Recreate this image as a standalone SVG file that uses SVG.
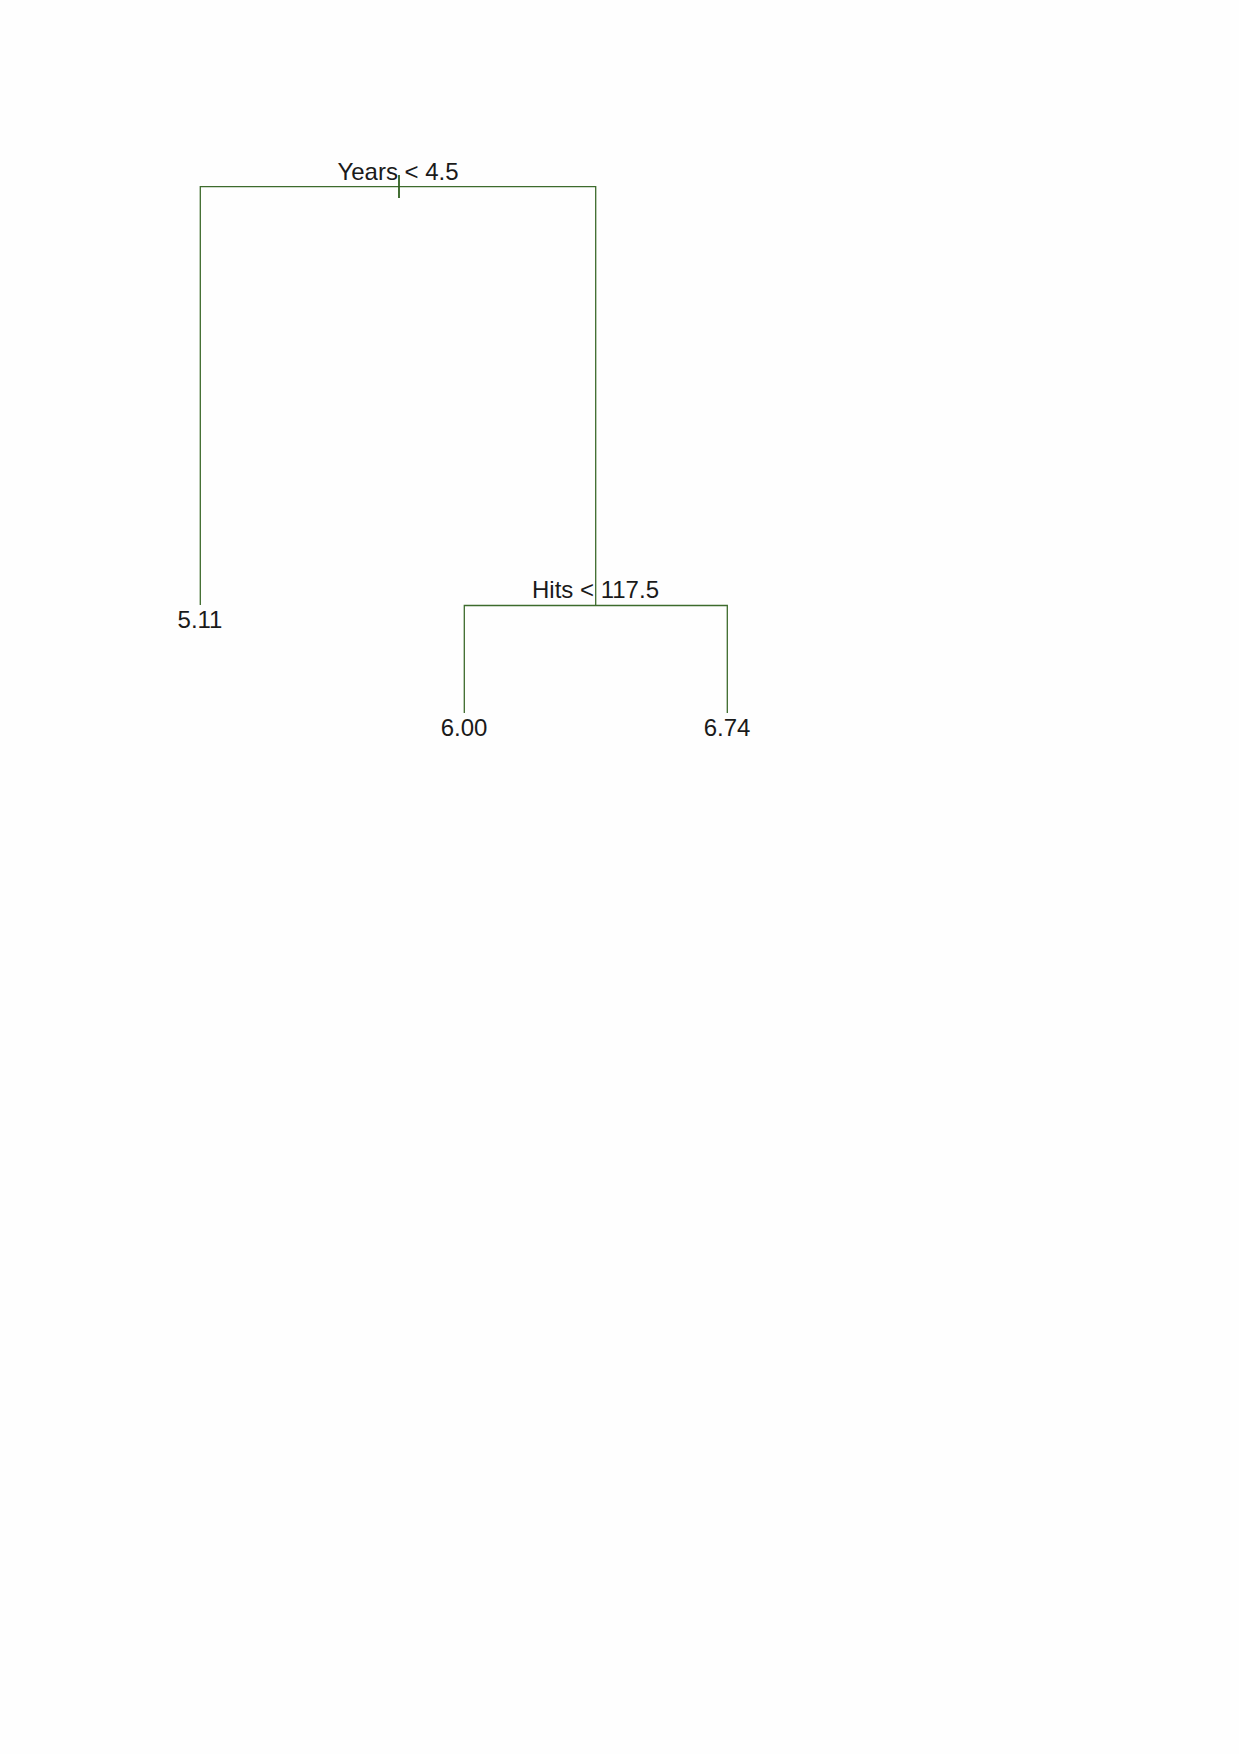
<svg xmlns="http://www.w3.org/2000/svg" width="1239" height="1754" viewBox="0 0 1239 1754">
<style>
.e{stroke:#3d6b2c;stroke-width:1.3;fill:none}
.t{font-family:"Liberation Sans",Arial,sans-serif;font-size:24px;fill:#1a1a1a;text-anchor:middle}
</style>
<rect width="1239" height="1754" fill="#fefefe"/>
<g id="connectors">
<path class="e" d="M200.3,605 V186.7 H595.7 V605"/>
<path class="e" d="M464.3,713 V605.5 H727.3 V713"/>
<line x1="399" y1="175" x2="399" y2="198" stroke="#2f5f1f" stroke-width="1.8"/>
</g>
<g id="root"><text class="t" x="398" y="180">Years &lt; 4.5</text></g>
<g id="split2"><text class="t" x="595.5" y="597.5">Hits &lt; 117.5</text></g>
<g id="leaf1"><text class="t" x="200" y="627.5">5.11</text></g>
<g id="leaf2"><text class="t" x="464" y="736">6.00</text></g>
<g id="leaf3"><text class="t" x="727" y="736">6.74</text></g>
</svg>
